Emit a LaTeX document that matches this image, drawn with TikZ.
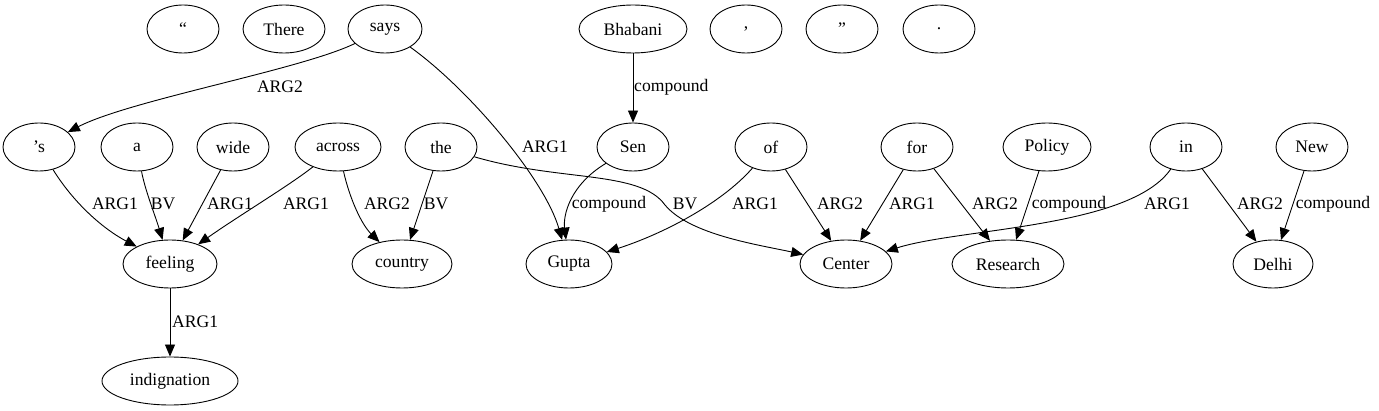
\documentclass[tikz,border=0pt]{standalone}
\usepackage{fontspec}
\setmainfont{Liberation Serif}
\usetikzlibrary{shapes.geometric,arrows.meta}
\tikzset{
  nd/.style={ellipse, draw, line width=0.9pt, inner sep=0pt, minimum height=48pt, minimum width=72pt, font=\fontsize{17.6}{20}\selectfont},
  lab/.style={inner sep=0pt, font=\fontsize{17.6}{20}\selectfont},
  e/.style={draw, line width=0.9pt, -{Triangle[length=12pt,width=10pt]}}
}
\begin{document}
\begin{tikzpicture}[x=1pt,y=-1pt]
\useasboundingbox (0,0) rectangle (1379,411);
% row 1
\node[nd] (lq) at (183,29) {``};
\node[nd, minimum width=82pt] (There) at (284,29) {There};
\node[nd, minimum width=74pt] (says) at (385,29) {says};
\node[nd, minimum width=108pt] (Bhabani) at (633,29) {Bhabani};
\node[nd] (comma) at (746,29) {,};
\node[nd] (rq) at (842,29) {''};
\node[nd] (dot) at (939,29) {.};
% row 2
\node[nd] (s) at (39,147) {’s};
\node[nd] (a) at (137,147) {a};
\node[nd] (wide) at (233,147) {wide};
\node[nd, minimum width=86pt] (across) at (338,147) {across};
\node[nd] (the) at (441,147) {the};
\node[nd] (Sen) at (633,147) {Sen};
\node[nd] (of) at (771,147) {of};
\node[nd] (for) at (917,147) {for};
\node[nd, minimum width=88pt] (Policy) at (1047,147) {Policy};
\node[nd] (in) at (1186,147) {in};
\node[nd] (New) at (1312,147) {New};
% row 3
\node[nd, minimum width=94pt] (feeling) at (170,264) {feeling};
\node[nd, minimum width=100pt] (country) at (402,264) {country};
\node[nd, minimum width=86pt] (Gupta) at (569,264) {Gupta};
\node[nd, minimum width=92pt] (Center) at (846,264) {Center};
\node[nd, minimum width=112pt] (Research) at (1008,264) {Research};
\node[nd, minimum width=80pt] (Delhi) at (1273,264) {Delhi};
% row 4
\node[nd, minimum width=136pt] (indignation) at (170,381) {indignation};

% edges
\draw[e] (says) .. controls (300,70) and (130,100) .. (s);
\draw[e] (says) .. controls (470,90) and (545,180) .. (Gupta);
\draw[e] (Bhabani) -- (Sen);
\draw[e] (s) .. controls (75,205) and (105,230) .. (feeling);
\draw[e] (a) .. controls (145,190) and (155,215) .. (feeling);
\draw[e] (wide) -- (feeling);
\draw[e] (across) .. controls (290,185) and (240,215) .. (feeling);
\draw[e] (across) .. controls (350,200) and (362,225) .. (country);
\draw[e] (the) -- (country);
\draw[e] (the) .. controls (560,182) and (640,170) .. (665,205) .. controls (690,235) and (760,245) .. (Center);
\draw[e] (Sen) .. controls (570,185) and (563,215) .. (Gupta);
\draw[e] (of) .. controls (720,205) and (660,235) .. (Gupta);
\draw[e] (of) -- (Center);
\draw[e] (for) -- (Center);
\draw[e] (for) -- (Research);
\draw[e] (Policy) -- (Research);
\draw[e] (in) .. controls (1130,228) and (960,228) .. (Center);
\draw[e] (in) -- (Delhi);
\draw[e] (New) -- (Delhi);
\draw[e] (feeling) -- (indignation);

% labels
\node[lab] (l1) at (280,87) {ARG2};
\node[lab] (l2) at (545,147) {ARG1};
\node[lab, anchor=west] (l3) at (634,87) {compound};
\node[lab] (l4) at (115,204) {ARG1};
\node[lab] (l5) at (163,204) {BV};
\node[lab] (l6) at (230,204) {ARG1};
\node[lab] (l7) at (306,204) {ARG1};
\node[lab] (l8) at (387,204) {ARG2};
\node[lab] (l9) at (436,204) {BV};
\node[lab] (l10) at (685,204) {BV};
\node[lab] (l11) at (609,204) {compound};
\node[lab] (l12) at (755,204) {ARG1};
\node[lab] (l13) at (840,204) {ARG2};
\node[lab] (l14) at (912,204) {ARG1};
\node[lab] (l15) at (995,204) {ARG2};
\node[lab] (l16) at (1069,204) {compound};
\node[lab] (l17) at (1167,204) {ARG1};
\node[lab] (l18) at (1260,204) {ARG2};
\node[lab] (l19) at (1333,204) {compound};
\node[lab, anchor=west] (l20) at (172,322) {ARG1};
\end{tikzpicture}
\end{document}
